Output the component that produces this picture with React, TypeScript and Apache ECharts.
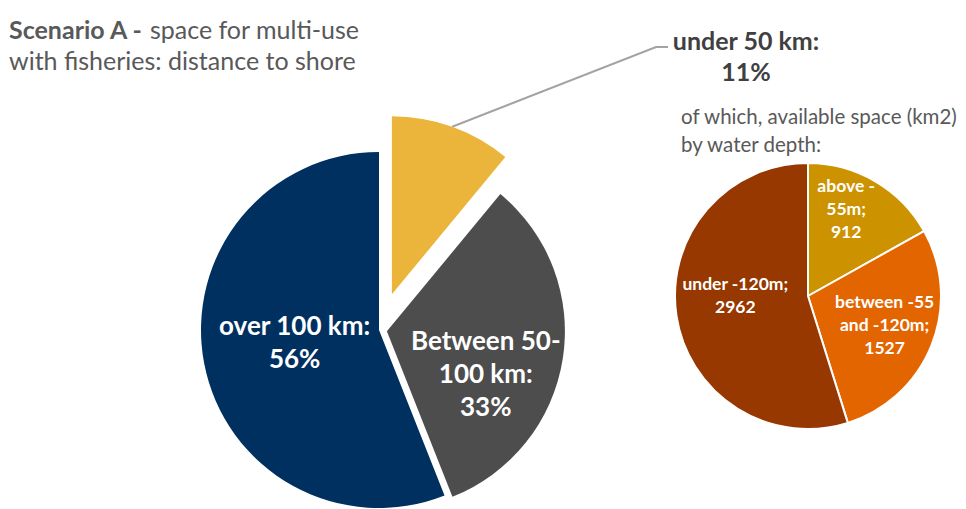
import React, { useEffect, useRef } from "react";
import * as echarts from "echarts";

const FONT = "Lato, 'Open Sans', sans-serif";

const titleBold = "Scenario A -";
const titleLine1 = " space for multi-use";
const titleLine2 = "with fisheries: distance to shore";

const mainCategories = ["under 50 km", "Between 50-100 km", "over 100 km"];
const mainLabelText = ["under 50 km:", "Between 50-\n100 km:", "over 100 km:"];
const mainShares = [11, 33, 56];
const mainColors = ["#EBB43A", "#4D4D4D", "#00305F"];

const depthTitle = "of which, available space (km2)\nby water depth:";
const depthCategories = ["above -55m", "between -55 and -120m", "under -120m"];
const depthLabelText = ["above -\n55m;", "between -55\nand -120m;", "under -120m;"];
const depthValues = [912, 1527, 2962];
const depthColors = ["#CC9200", "#E36500", "#963800"];

export default function App() {
  const ref = useRef<HTMLDivElement>(null);
  useEffect(() => {
    document.body.style.margin = "0";
    const chart = echarts.init(ref.current!, null, { renderer: "svg" });
    const mainCenter = [379, 330];
    const mainRadius = 178;
    // explode distance of each slice (px)
    const mainExplode = [38, 8, 0];
    // label nudges [dx, dy]
    const mainNudge = [
      [0, 0],
      [8, 27],
      [6, -6],
    ];
    const depthNudge = [
      [3, -28],
      [12, 3],
      [-4, -12],
    ];
    const total = mainShares.reduce((a, b) => a + b, 0);
    const sliceCenter = (i: number) => {
      const before = mainShares.slice(0, i).reduce((a, b) => a + b, 0);
      const mid = ((before + mainShares[i] / 2) / total) * 2 * Math.PI;
      return [
        mainCenter[0] + mainExplode[i] * Math.sin(mid),
        mainCenter[1] - mainExplode[i] * Math.cos(mid),
      ];
    };

    const mainLabelStyle = {
      color: "#FFFFFF",
      fontFamily: FONT,
      fontWeight: "bold" as const,
      fontSize: 26,
      lineHeight: 33,
    };

    const mainSeries = mainCategories.map((_, k) => ({
      type: "pie",
      center: sliceCenter(k),
      radius: mainRadius,
      startAngle: 90,
      clockwise: true,
      silent: true,
      labelLayout: (p: any) => {
        if (p.dataIndex !== k) return {};
        if (k === 0) {
          const pts = p.labelLinePoints;
          const res: any = {
            x: 746,
            y: 55,
            align: "center",
            verticalAlign: "middle",
          };
          if (pts && pts.length) {
            res.labelLinePoints = [pts[0], [656, 47], [668, 47]];
          }
          return res;
        }
        return { dx: mainNudge[k][0], dy: mainNudge[k][1] };
      },
      data: mainCategories.map((name, i) => ({
        name,
        value: mainShares[i],
        itemStyle: {
          color: i === k ? mainColors[i] : "transparent",
          borderWidth: 0,
        },
        label:
          i !== k
            ? { show: false }
            : i === 0
            ? {
                show: true,
                position: "outside",
                formatter: `${mainLabelText[i]}\n${mainShares[i]}%`,
                color: "#404040",
                fontFamily: FONT,
                fontWeight: "bold",
                fontSize: 25,
                lineHeight: 31,
                align: "center",
              }
            : {
                show: true,
                position: "inside",
                formatter: `${mainLabelText[i]}\n${mainShares[i]}%`,
                ...mainLabelStyle,
              },
        labelLine:
          i === k && i === 0
            ? {
                show: true,
                length: 20,
                length2: 10,
                lineStyle: { color: "#A3A3A3", width: 2 },
              }
            : { show: false },
      })),
    }));

    const option = {
      animation: false,
      backgroundColor: "#FFFFFF",
      title: [
        {
          text: `{b|${titleBold}}${titleLine1}\n${titleLine2}`,
          left: 9,
          top: 13,
          padding: 0,
          textStyle: {
            fontFamily: FONT,
            fontSize: 25,
            fontWeight: "normal",
            color: "#595959",
            lineHeight: 31,
            rich: {
              b: {
                fontFamily: FONT,
                fontSize: 25,
                fontWeight: "bold",
                color: "#595959",
                lineHeight: 31,
              },
            },
          },
        },
        {
          text: depthTitle,
          left: 681,
          top: 102,
          padding: 0,
          textStyle: {
            fontFamily: FONT,
            fontSize: 20.5,
            fontWeight: "normal",
            color: "#595959",
            lineHeight: 28,
          },
        },
      ],
      series: [
        ...mainSeries,
        {
          type: "pie",
          center: [808, 296],
          radius: 133,
          startAngle: 90,
          clockwise: true,
          silent: true,
          itemStyle: { borderColor: "#FFFFFF", borderWidth: 2 },
          label: {
            show: true,
            position: "inside",
            color: "#FFFFFF",
            fontFamily: FONT,
            fontWeight: "bold",
            fontSize: 17.5,
            lineHeight: 23,
          },
          labelLine: { show: false },
          labelLayout: (p: any) => ({
            dx: depthNudge[p.dataIndex][0],
            dy: depthNudge[p.dataIndex][1],
          }),
          data: depthCategories.map((name, i) => ({
            name,
            value: depthValues[i],
            itemStyle: { color: depthColors[i] },
            label: {
              formatter: `${depthLabelText[i]}\n${depthValues[i]}`,
            },
          })),
        },
      ],
    };
    chart.setOption(option as any);
    return () => chart.dispose();
  }, []);
  return (
    <div
      ref={ref}
      style={{ position: "absolute", left: 0, top: 0, width: 966, height: 509 }}
    />
  );
}
